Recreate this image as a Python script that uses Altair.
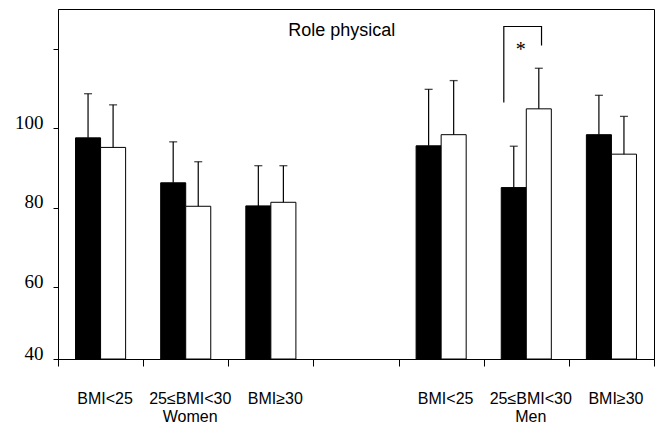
import altair as alt
import pandas as pd

# ---- data ----
slots = ["W1", "W2", "W3", "gap", "M1", "M2", "M3"]
slot_labels = ["BMI<25", "25≤BMI<30", "BMI≥30", "", "BMI<25", "25≤BMI<30", "BMI≥30"]
group_labels = ["", "Women", "", "", "", "Men", ""]

bar_slots = ["W1", "W2", "W3", "M1", "M2", "M3"]
black_values = [97.6, 86.3, 80.5, 95.6, 85.1, 98.4]
black_caps = [108.7, 96.6, 90.6, 109.8, 95.5, 108.3]
white_values = [95.2, 80.4, 81.4, 98.4, 104.9, 93.5]
white_caps = [105.9, 91.6, 90.6, 112.0, 115.1, 103.0]

y_ticks = [42, 60, 80, 100, 120]
y_tick_text = ["40", "60", "80", "100", ""]

bracket_x = [5.236, 5.236, 5.679, 5.679]   # in group-slot units
bracket_y = [106.5, 125.6, 125.6, 120.8]
star_x, star_y = [5.435], [118.3]
title_x, title_y = [3.332], [123.1]

rows = []
for s, v, c in zip(bar_slots, black_values, black_caps):
    rows.append({"slot": s, "series": "black", "value": v, "cap": c})
for s, v, c in zip(bar_slots, white_values, white_caps):
    rows.append({"slot": s, "series": "white", "value": v, "cap": c})
df = pd.DataFrame(rows)

# label expression
def lab(i):
    if group_labels[i]:
        return "['%s','%s']" % (slot_labels[i], group_labels[i])
    return "'%s'" % slot_labels[i]

expr = "''"
for i in reversed(range(len(slots))):
    expr = "datum.value=='%s' ? %s : (%s)" % (slots[i], lab(i), expr)

yexpr = "''"
for t, txt in zip(reversed(y_ticks), reversed(y_tick_text)):
    yexpr = "datum.value==%s ? '%s' : (%s)" % (t, txt, yexpr)

yscale = alt.Scale(domain=[42, 130], nice=False, zero=False)
xq = alt.Scale(domain=[0, 7], nice=False, zero=False)
band_scale = alt.Scale(domain=slots, paddingInner=0, paddingOuter=0)

xband = alt.X(
    "slot:N",
    sort=slots,
    scale=band_scale,
    axis=alt.Axis(
        title=None,
        labelAngle=0,
        tickBand="extent",
        labelExpr=expr,
        labelFont="Liberation Sans",
        labelFontSize=16,
        labelLineHeight=18.5,
        labelColor="black",
        labelBaseline="top",
        labelPadding=24,
        labelOffset=4,
        tickSize=7,
        tickColor="black",
        domainColor="black",
        grid=False,
    ),
)
xband_noaxis = alt.X("slot:N", sort=slots, scale=band_scale, axis=None)
xoff = alt.XOffset(
    "series:N",
    scale=alt.Scale(domain=["black", "white"], paddingInner=0, paddingOuter=0.7),
)
yenc = alt.Y(
    "value:Q",
    scale=yscale,
    axis=alt.Axis(
        title=None,
        values=y_ticks,
        labelExpr=yexpr,
        labelFont="Liberation Serif",
        labelFontSize=19,
        labelColor="black",
        labelBaseline="alphabetic",
        labelPadding=10,
        tickSize=5,
        tickColor="black",
        domainColor="black",
        grid=False,
    ),
)

bars = alt.Chart(df).mark_bar(stroke="black", strokeWidth=1).encode(
    x=xband,
    xOffset=xoff,
    y=yenc,
    y2=alt.datum(42),
    fill=alt.Fill("series:N", scale=alt.Scale(domain=["black", "white"], range=["#000000", "#ffffff"]), legend=None),
)

err = alt.Chart(df).mark_rule(color="black", strokeWidth=1.2).encode(
    x=xband_noaxis, xOffset=xoff, y=alt.Y("value:Q", scale=yscale), y2="cap:Q"
)
caps = alt.Chart(df).mark_tick(orient="horizontal", size=8, thickness=1.3, color="black").encode(
    x=xband_noaxis, xOffset=xoff, y=alt.Y("cap:Q", scale=yscale)
)

bdf = pd.DataFrame({"bx": bracket_x, "by": bracket_y, "o": list(range(len(bracket_x)))})
bracket = alt.Chart(bdf).mark_line(color="black", strokeWidth=1.2).encode(
    x=alt.X("bx:Q", scale=xq, axis=None),
    y=alt.Y("by:Q", scale=yscale),
    order="o:Q",
)

sdf = pd.DataFrame({"sx": star_x, "sy": star_y, "t": ["*"]})
star = alt.Chart(sdf).mark_text(font="Liberation Serif", fontSize=20, color="black", baseline="alphabetic", align="center").encode(
    x=alt.X("sx:Q", scale=xq, axis=None),
    y=alt.Y("sy:Q", scale=yscale),
    text="t:N",
)

tdf = pd.DataFrame({"tx": title_x, "ty": title_y, "t": ["Role physical"]})
title = alt.Chart(tdf).mark_text(font="Liberation Sans", fontSize=18, color="black", baseline="alphabetic", align="center").encode(
    x=alt.X("tx:Q", scale=xq, axis=None),
    y=alt.Y("ty:Q", scale=yscale),
    text="t:N",
)

chart = (
    alt.layer(bars, err, caps, bracket, star, title)
    .resolve_scale(x="independent")
    .properties(
        width=596,
        height=350,
        autosize=alt.AutoSizeParams(type="none"),
        padding={"left": 58, "top": 9, "right": 12, "bottom": 72},
        background="white",
    )
    .configure_view(stroke="black", strokeWidth=1)
)

chart.save("out.html", embed_options={"renderer": "svg", "actions": False})
